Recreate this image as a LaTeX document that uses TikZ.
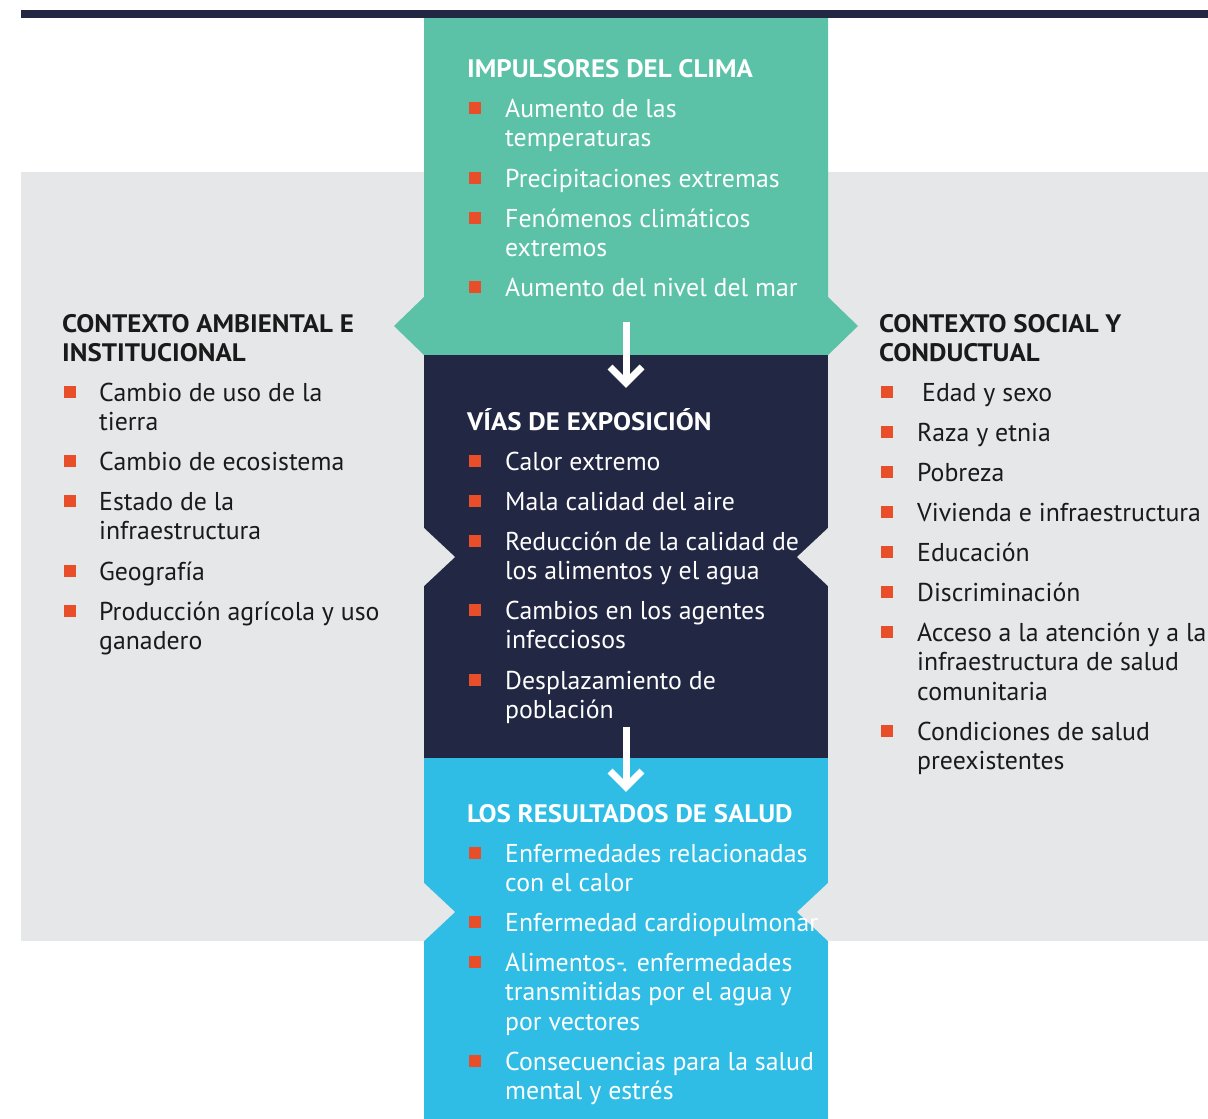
\documentclass[tikz,border=0pt]{standalone}
\usepackage{fontspec}
\setmainfont{PT Sans}
\newfontfamily\headfamily{PT Sans}[FakeStretch=1.065]
\usetikzlibrary{calc}
\definecolor{navyc}{HTML}{222744}
\definecolor{greenc}{HTML}{5BC2A7}
\definecolor{bluec}{HTML}{2FBDE5}
\definecolor{greyc}{HTML}{E6E7E8}
\definecolor{bulc}{HTML}{E84E2A}
\definecolor{inkc}{HTML}{1A1A1A}
\newcommand\bodyfont{\fontsize{25.8}{29.5}\selectfont}
\newcommand\titlefont{\headfamily\bfseries\fontsize{25.3}{29}\selectfont}
% one bullet line: name, bullet x, text x, first baseline, text
\newcommand\bitem[5]{%
  \fill[bulletbox] (#2,#4-14) rectangle ++(12,12);
  \node[itemtext] (#1) at (#3,#4-26) {\rule{0pt}{27pt}#5};}
% heading: name, x, first baseline, text
\newcommand\bhead[4]{%
  \node[headtext] (#1) at (#2,#3-26) {\rule{0pt}{27pt}#4};}
% white down arrow from top point to tip
\newcommand\flowarrow[2]{%
  \draw[arrowline] (#1) -- (#2);
  \draw[arrowline, line join=miter] ($(#2)+(-16,-16)$) -- (#2) -- ($(#2)+(16,-16)$);}
\begin{document}
\begin{tikzpicture}[x=1pt,y=-1pt,
  bulletbox/.style={fill=bulc},
  itemtext/.style={anchor=north west, inner sep=0pt, align=left, font=\bodyfont},
  headtext/.style={anchor=north west, inner sep=0pt, align=left, font=\titlefont},
  arrowline/.style={draw=white, line width=7pt}]
\useasboundingbox (0,0) rectangle (1208,1119);
\fill[white] (0,0) rectangle (1208,1119);

% top rule
\fill[navyc] (21,10) rectangle (1208,18);

% side context panels
\fill[greyc] (21,172) rectangle (424,941);
\fill[greyc] (828,172) rectangle (1208,941);

% climate drivers block with side pointers
\fill[greenc] (424,18) -- (828,18) -- (828,297) -- (858,326) -- (828,355)
  -- (424,355) -- (394,326) -- (424,297) -- cycle;

% exposure pathways block with notches
\fill[navyc] (424,355) rectangle (828,758);
\fill[greyc] (424,528) -- (455,557) -- (424,586) -- cycle;
\fill[greyc] (828,528) -- (797,557) -- (828,586) -- cycle;

% health outcomes block with notches
\fill[bluec] (424,758) rectangle (828,1119);
\fill[greyc] (424,883) -- (455,912) -- (424,941) -- cycle;
\fill[greyc] (828,883) -- (797,912) -- (828,941) -- cycle;

% flow arrows
\coordinate (a1s) at (626,322);
\coordinate (a1e) at (626,383);
\coordinate (a2s) at (626,727);
\coordinate (a2e) at (626,787);
\flowarrow{a1s}{a1e}
\flowarrow{a2s}{a2e}

% climate drivers
\begin{scope}[every node/.append style={text=white}]
\bhead{hclima}{467}{76}{IMPULSORES DEL CLIMA}
\bitem{c1}{469}{505}{116}{Aumento de las\\temperaturas}
\bitem{c2}{469}{505}{186}{Precipitaciones extremas}
\bitem{c3}{469}{505}{226}{Fenómenos climáticos\\extremos}
\bitem{c4}{469}{505}{295}{Aumento del nivel del mar}
\end{scope}

% exposure pathways
\begin{scope}[every node/.append style={text=white}]
\bhead{hvias}{467}{429}{VÍAS DE EXPOSICIÓN}
\bitem{v1}{469}{505}{469}{Calor extremo}
\bitem{v2}{469}{505}{509}{Mala calidad del aire}
\bitem{v3}{469}{505}{549}{Reducción de la calidad de\\los alimentos y el agua}
\bitem{v4}{469}{505}{618}{Cambios en los agentes\\infecciosos}
\bitem{v5}{469}{505}{688}{Desplazamiento de\\población}
\end{scope}

% health outcomes
\begin{scope}[every node/.append style={text=white}]
\bhead{hsalud}{467}{821}{LOS RESULTADOS DE SALUD}
\bitem{s1}{469}{505}{861}{Enfermedades relacionadas\\con el calor}
\bitem{s2}{469}{505}{930}{Enfermedad cardiopulmonar}
\bitem{s3}{469}{505}{970}{Alimentos-. enfermedades\\transmitidas por el agua y\\por vectores}
\bitem{s4}{469}{505}{1069}{Consecuencias para la salud\\mental y estrés}
\end{scope}

% environmental and institutional context
\begin{scope}[every node/.append style={text=inkc}]
\bhead{hamb}{62}{331}{CONTEXTO AMBIENTAL E\\INSTITUCIONAL}
\bitem{e1}{64}{99}{400}{Cambio de uso de la\\tierra}
\bitem{e2}{64}{99}{469}{Cambio de ecosistema}
\bitem{e3}{64}{99}{509}{Estado de la\\infraestructura}
\bitem{e4}{64}{99}{579}{Geografía}
\bitem{e5}{64}{99}{619}{Producción agrícola y uso\\ganadero}
\end{scope}

% social and behavioural context
\begin{scope}[every node/.append style={text=inkc}]
\bhead{hsoc}{879}{331}{CONTEXTO SOCIAL Y\\CONDUCTUAL}
\bitem{r1}{881}{922}{400}{Edad y sexo}
\bitem{r2}{881}{917}{440}{Raza y etnia}
\bitem{r3}{881}{917}{480}{Pobreza}
\bitem{r4}{881}{917}{520}{Vivienda e infraestructura}
\bitem{r5}{881}{917}{560}{Educación}
\bitem{r6}{881}{917}{600}{Discriminación}
\bitem{r7}{881}{917}{640}{Acceso a la atención y a la\\infraestructura de salud\\comunitaria}
\bitem{r8}{881}{917}{739}{Condiciones de salud\\preexistentes}
\end{scope}
\end{tikzpicture}
\end{document}
